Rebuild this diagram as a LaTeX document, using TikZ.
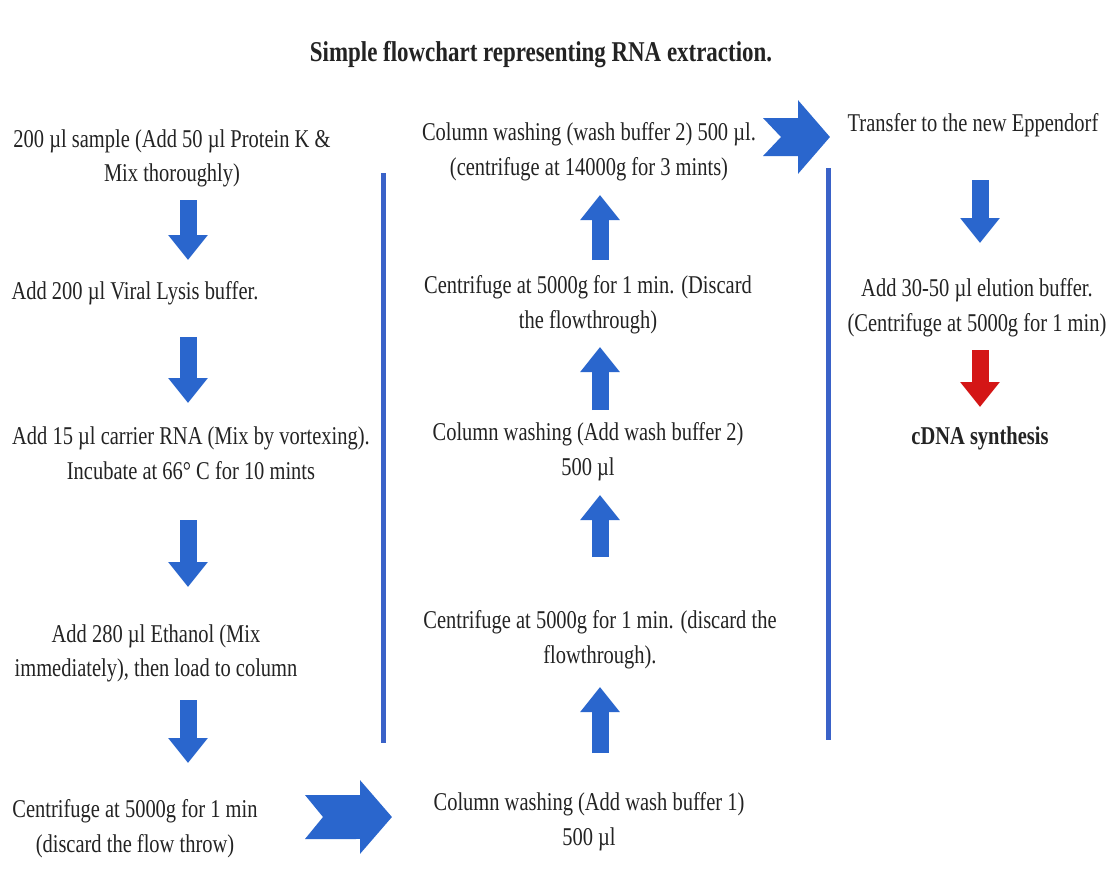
\documentclass[tikz,border=0pt]{standalone}
\usepackage{fontspec}
\setmainfont{Liberation Serif}[FakeStretch=0.8]
\usetikzlibrary{arrows.meta,calc}
\definecolor{arrblue}{RGB}{42,102,205}
\definecolor{lineblue}{RGB}{58,98,200}
\definecolor{arrred}{RGB}{212,22,22}
\definecolor{txt}{RGB}{35,35,35}
\newdimen\px \px=0.75pt
\tikzset{
  lbl/.style={inner sep=0pt, align=center, text=txt, font=\fontsize{19.2pt}{26pt}\selectfont},
  ttl/.style={inner sep=0pt, text=txt, font=\fontsize{21.5pt}{26pt}\selectfont\bfseries},
  blockarr/.style={line width=17\px, draw=arrblue, -{Triangle[width=28.5pt,length=18.75pt]}},
  redarr/.style={blockarr, draw=arrred},
  chev/.style={line width=#1, draw=arrblue, {Triangle Cap[reversed,length=13.5pt]}-{Triangle[width=54pt,length=24pt]}},
  sepline/.style={draw=lineblue, line width=5\px}
}
\begin{document}
\begin{tikzpicture}[x=0.75pt,y=-0.75pt]
\useasboundingbox[fill=white] (0,0) rectangle (1114,879);
\node[ttl] (T) at (541,55) {Simple flowchart representing RNA extraction.};
% left column
\node[lbl] (N1) at (172,158.5) {200 µl sample (Add 50 µl Protein K \&\\Mix thoroughly)};
\node[lbl] (N2) at (135,293) {Add 200 µl Viral Lysis buffer.};
\node[lbl] (N3) at (191,453.5) {Add 15 µl carrier RNA (Mix by vortexing).\\Incubate at 66° C for 10 mints};
\node[lbl] (N4) at (156,653.5) {Add 280 µl Ethanol (Mix\\immediately), then load to column};
\node[lbl] (N5) at (135,829) {Centrifuge at 5000g for 1 min\\(discard the flow throw)};
% middle column
\node[lbl] (N6) at (589,822) {Column washing (Add wash buffer 1)\\500 µl};
\node[lbl] (N7) at (600,640) {Centrifuge at 5000g for 1 min. (discard the\\flowthrough).};
\node[lbl] (N8) at (588,452) {Column washing (Add wash buffer 2)\\500 µl};
\node[lbl] (N9) at (588,305) {Centrifuge at 5000g for 1 min. (Discard\\the flowthrough)};
\node[lbl] (N10) at (589,152) {Column washing (wash buffer 2) 500 µl.\\(centrifuge at 14000g for 3 mints)};
% right column
\node[lbl] (R1) at (973,125) {Transfer to the new Eppendorf};
\node[lbl] (R2) at (977,308) {Add 30-50 µl elution buffer.\\(Centrifuge at 5000g for 1 min)};
\node[lbl,font=\fontsize{19.2pt}{26pt}\selectfont\bfseries] (R3) at (980,438) {cDNA synthesis};
% arrow columns
\coordinate (cL) at (188,0);
\coordinate (cM) at (600,0);
\coordinate (cR) at (980,0);
% separators
\draw[sepline] (383,173) -- (383,743);
\draw[sepline] (828,168) -- (828,740);
% down arrows left
\draw[blockarr, shorten <=41.5\px, shorten >=33\px] (N1 -| cL) -- (N2 -| cL);
\draw[blockarr, shorten <=44\px, shorten >=50.5\px] (N2 -| cL) -- (N3 -| cL);
\draw[blockarr, shorten <=66.5\px, shorten >=66.5\px] (N3 -| cL) -- (N4 -| cL);
\draw[blockarr, shorten <=46.5\px, shorten >=66\px] (N4 -| cL) -- (N5 -| cL);
% up arrows middle
\draw[blockarr, shorten <=69\px, shorten >=47\px] (N6 -| cM) -- (N7 -| cM);
\draw[blockarr, shorten <=83\px, shorten >=43\px] (N7 -| cM) -- (N8 -| cM);
\draw[blockarr, shorten <=42\px, shorten >=42\px] (N8 -| cM) -- (N9 -| cM);
\draw[blockarr, shorten <=45\px, shorten >=43\px] (N9 -| cM) -- (N10 -| cM);
% right column
\draw[blockarr, shorten <=55\px, shorten >=65\px] (R1 -| cR) -- (R2 -| cR);
\draw[redarr, shorten <=42\px, shorten >=31\px] (R2 -| cR) -- (R3 -| cR);
% chevrons
\draw[chev=44\px, shorten <=170\px, shorten >=197\px] ([yshift=12\px]N5.center) -- ([yshift=5\px]N6.center);
\draw[chev=38\px, shorten <=174\px, shorten >=143\px] ([yshift=15\px]N10.center) -- ([yshift=-12\px]R1.center);
\end{tikzpicture}
\end{document}
